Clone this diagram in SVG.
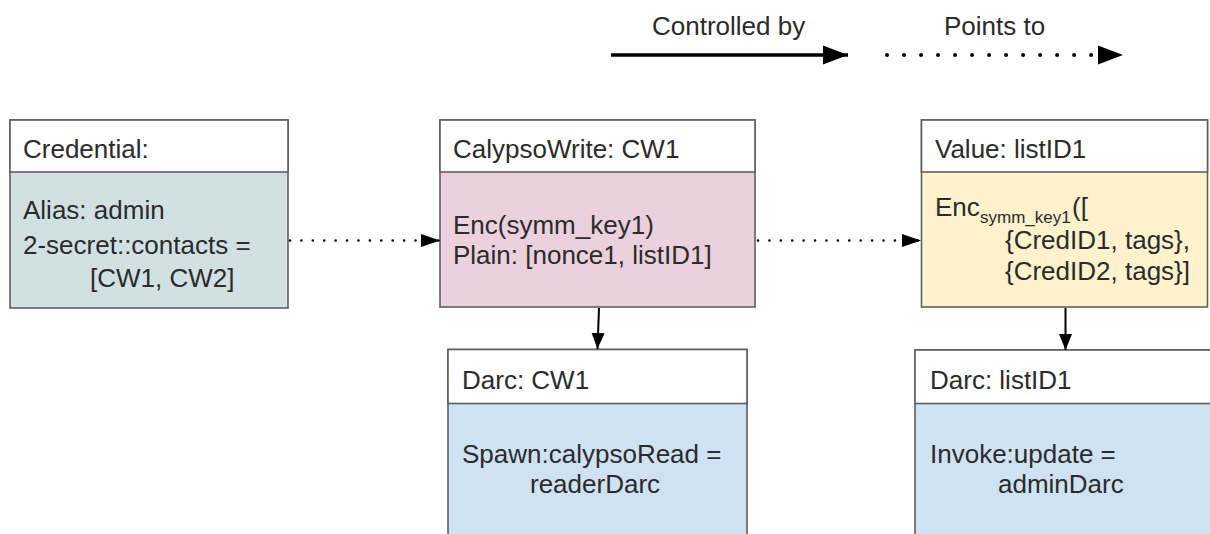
<svg xmlns="http://www.w3.org/2000/svg" width="1210" height="534" viewBox="0 0 1210 534">
  <style>
    .box { stroke: #5f5f5f; stroke-width: 1.6; }
    .head { fill: #ffffff; }
    .t { font-family: "Liberation Sans", Arial, sans-serif; font-size: 26px; fill: #2b2b2b; }
    .sub { font-family: "Liberation Sans", Arial, sans-serif; font-size: 17px; fill: #2b2b2b; }
    .solid { stroke: #000; stroke-width: 2; fill: none; }
    .dots { stroke: #000; stroke-width: 2.6; stroke-linecap: round; stroke-dasharray: 0.01 11.4; fill: none; }
    .legend-solid { stroke: #000; stroke-width: 3.6; fill: none; }
    .legend-dots { stroke: #000; stroke-width: 4; stroke-linecap: round; stroke-dasharray: 0.01 17; fill: none; }
  </style>
  <defs>
    <marker id="head-small" markerUnits="userSpaceOnUse" markerWidth="20" markerHeight="14" refX="19" refY="7" orient="auto">
      <path d="M0,0.5 L19,7 L0,13.5 Z" fill="#000"/>
    </marker>
    <marker id="head-down" markerUnits="userSpaceOnUse" markerWidth="17" markerHeight="14" refX="16" refY="7" orient="auto">
      <path d="M0,0.5 L16,7 L0,13.5 Z" fill="#000"/>
    </marker>
    <marker id="head-legend" markerUnits="userSpaceOnUse" markerWidth="26" markerHeight="20" refX="25" refY="10" orient="auto">
      <path d="M0,0.5 L25,10 L0,19.5 Z" fill="#000"/>
    </marker>
  </defs>

  <rect width="1210" height="534" fill="#ffffff"/>

  <!-- legend -->
  <g id="legend">
    <text class="t" x="652" y="35">Controlled by</text>
    <line class="legend-solid" x1="611" y1="55" x2="848" y2="55" marker-end="url(#head-legend)"/>
    <text class="t" x="944" y="35">Points to</text>
    <line class="legend-dots" x1="887" y1="55" x2="1123" y2="55" marker-end="url(#head-legend)"/>
  </g>

  <!-- credential -->
  <g id="credential">
    <rect class="box" x="10" y="120" width="278" height="188" fill="#d0e0e3"/>
    <rect class="box head" x="10" y="120" width="278" height="52"/>
    <text class="t" x="23" y="158">Credential:</text>
    <text class="t" x="23" y="219">Alias: admin</text>
    <text class="t" x="23" y="254">2-secret::contacts =</text>
    <text class="t" x="90" y="287">[CW1, CW2]</text>
  </g>

  <!-- calypso write instance -->
  <g id="calypso-write">
    <rect class="box" x="440" y="120" width="315" height="187" fill="#ead1dc"/>
    <rect class="box head" x="440" y="120" width="315" height="52"/>
    <text class="t" x="453" y="158">CalypsoWrite: CW1</text>
    <text class="t" x="453" y="234">Enc(symm_key1)</text>
    <text class="t" x="453" y="264">Plain: [nonce1, listID1]</text>
  </g>

  <!-- value instance -->
  <g id="value">
    <rect class="box" x="921.5" y="120" width="286" height="187" fill="#fff2cc"/>
    <rect class="box head" x="921.5" y="120" width="286" height="52"/>
    <text class="t" x="935" y="158">Value: listID1</text>
    <text class="t" x="935" y="216">Enc</text>
    <text class="sub" x="980" y="223">symm_key1</text>
    <text class="t" x="1072" y="216">([</text>
    <text class="t" x="1005" y="249">{CredID1, tags},</text>
    <text class="t" x="1005" y="280">{CredID2, tags}]</text>
  </g>

  <!-- darc of CW1 -->
  <g id="darc-cw1">
    <rect class="box" x="448" y="349.5" width="299" height="200" fill="#cfe2f3"/>
    <rect class="box head" x="448" y="349.5" width="299" height="54"/>
    <text class="t" x="462" y="389">Darc: CW1</text>
    <text class="t" x="462" y="463">Spawn:calypsoRead =</text>
    <text class="t" x="530" y="493">readerDarc</text>
  </g>

  <!-- darc of listID1 -->
  <g id="darc-listid1">
    <rect class="box" x="915" y="350" width="310" height="200" fill="#cfe2f3"/>
    <rect class="box head" x="915" y="350" width="310" height="53.5"/>
    <text class="t" x="930" y="389">Darc: listID1</text>
    <text class="t" x="930" y="463">Invoke:update =</text>
    <text class="t" x="998" y="493">adminDarc</text>
  </g>

  <!-- connectors -->
  <g id="connectors">
    <line class="dots" x1="290" y1="240.5" x2="440" y2="240.5" marker-end="url(#head-small)"/>
    <line class="dots" x1="758" y1="240.5" x2="921" y2="240.5" marker-end="url(#head-small)"/>
    <line class="solid" x1="599" y1="308" x2="597.5" y2="349" marker-end="url(#head-down)"/>
    <line class="solid" x1="1065.5" y1="308" x2="1065.5" y2="350" marker-end="url(#head-down)"/>
  </g>
</svg>
